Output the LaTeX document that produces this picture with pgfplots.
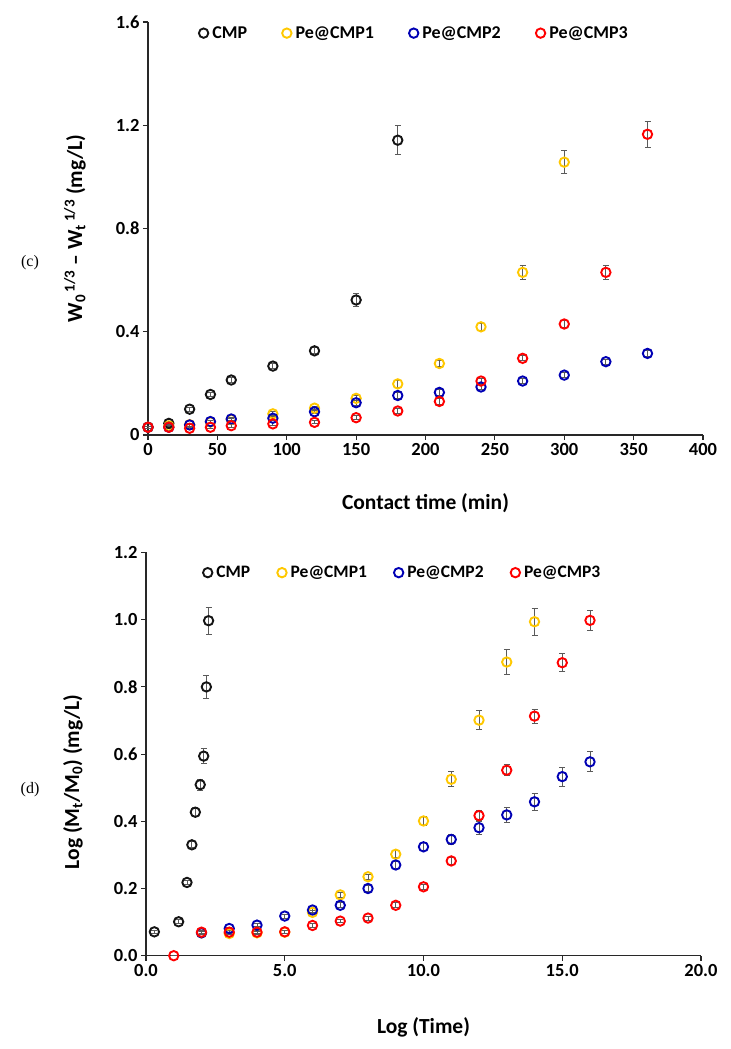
\documentclass[border=0pt]{standalone}
\usepackage{pgfplots}
\pgfplotsset{compat=1.18}
\usepackage{fontspec}
\setmainfont{Carlito}
\newfontfamily\serifpanel{Liberation Serif}
\definecolor{cmpk}{RGB}{20,20,20}
\definecolor{pe1}{RGB}{255,200,0}
\definecolor{pe2}{RGB}{0,0,180}
\definecolor{pe3}{RGB}{255,0,0}
\definecolor{errc}{RGB}{90,90,90}
\definecolor{axc}{RGB}{40,40,40}
\pgfplotsset{
  common/.style={
    scale only axis, width=555bp,
    axis x line*=bottom, axis y line*=left,
    axis line style={axc, line width=1.1bp},
    tick style={axc, line width=1.1bp},
    tick align=outside, major tick length=5bp,
    /pgf/number format/assume math mode=true,
    tick label style={font=\bfseries\fontsize{18.5bp}{22bp}\selectfont},
    label style={font=\bfseries\fontsize{21.5bp}{26bp}\selectfont},
    legend style={draw=none, fill=none, font=\bfseries\fontsize{18bp}{22bp}\selectfont,
      legend columns=4,
      /tikz/every odd column/.append style={column sep=2bp}},
    legend image code/.code={\draw[mark repeat=2,mark phase=2,##1] plot coordinates {(0cm,0cm)(0.12cm,0cm)(0.24cm,0cm)};},
    clip=false,
  },
  ser/.style={only marks, mark=o, mark size=4.7bp, mark options={line width=1.9bp, draw=#1},
    error bars/.cd, y dir=both, y explicit,
    error bar style={errc, line width=0.9bp}, error mark options={rotate=90, mark size=3bp, errc, line width=0.9bp}},
}
\begin{document}
\begin{tikzpicture}
\path[use as bounding box] (0,0) rectangle (731bp,1049bp);
% ---------------- (c) ----------------
\begin{axis}[common, at={(148bp,614bp)}, anchor=south west, height=413bp,
  xmin=0, xmax=400, ymin=0, ymax=1.6,
  xtick={0,50,...,400}, ytick={0,0.4,0.8,1.2,1.6},
  yticklabels={0,0.4,0.8,1.2,1.6},
  xlabel={Contact time (min)},
  ylabel={W\textsubscript{0}\textsuperscript{\,1/3} -- W\textsubscript{t}\textsuperscript{\,1/3} (mg/L)},
  xlabel style={at={(axis description cs:0.5,-0.165)}, anchor=center},
  ylabel style={at={(axis description cs:-0.1315,0.5)}, anchor=center},
  legend style={at={(axis description cs:0.086,0.973)}, anchor=west,
    /tikz/every even column/.append style={column sep=33bp}},
]
\addplot+[ser=cmpk] coordinates {
(0,0.030) +- (0,0.005) (15,0.045) +- (0,0.008) (30,0.100) +- (0,0.008) (45,0.157) +- (0,0.008)
(60,0.213) +- (0,0.010) (90,0.267) +- (0,0.010) (120,0.326) +- (0,0.012) (150,0.523) +- (0,0.026)
(180,1.142) +- (0,0.057)};
\addlegendentry{CMP}
\addplot+[ser=pe1] coordinates {
(0,0.030) +- (0,0.005) (15,0.035) +- (0,0.005) (30,0.040) +- (0,0.005) (45,0.050) +- (0,0.006)
(60,0.060) +- (0,0.006) (90,0.082) +- (0,0.008) (120,0.104) +- (0,0.008) (150,0.142) +- (0,0.010)
(180,0.198) +- (0,0.015) (210,0.277) +- (0,0.012) (240,0.419) +- (0,0.015) (270,0.630) +- (0,0.028)
(300,1.057) +- (0,0.045)};
\addlegendentry{Pe@CMP1}
\addplot+[ser=pe2] coordinates {
(0,0.030) +- (0,0.005) (15,0.030) +- (0,0.005) (30,0.039) +- (0,0.005) (45,0.052) +- (0,0.006)
(60,0.062) +- (0,0.006) (90,0.065) +- (0,0.008) (120,0.090) +- (0,0.008) (150,0.125) +- (0,0.010)
(180,0.153) +- (0,0.010) (210,0.165) +- (0,0.010) (240,0.186) +- (0,0.010) (270,0.209) +- (0,0.010)
(300,0.232) +- (0,0.010) (330,0.284) +- (0,0.010) (360,0.316) +- (0,0.010)};
\addlegendentry{Pe@CMP2}
\addplot+[ser=pe3] coordinates {
(0,0.030) +- (0,0.005) (15,0.030) +- (0,0.005) (30,0.026) +- (0,0.005) (45,0.030) +- (0,0.005)
(60,0.036) +- (0,0.006) (90,0.043) +- (0,0.006) (120,0.049) +- (0,0.006) (150,0.067) +- (0,0.008)
(180,0.093) +- (0,0.008) (210,0.130) +- (0,0.010) (240,0.209) +- (0,0.010) (270,0.297) +- (0,0.010)
(300,0.430) +- (0,0.012) (330,0.630) +- (0,0.028) (360,1.165) +- (0,0.050)};
\addlegendentry{Pe@CMP3}
\end{axis}
\node[font=\serifpanel\fontsize{16bp}{19bp}\selectfont] at (30bp,786bp) {(c)};
% ---------------- (d) ----------------
\begin{axis}[common, at={(146bp,93.3bp)}, anchor=south west, height=403.2bp,
  xmin=0, xmax=20, ymin=0, ymax=1.2,
  xtick={0,5,...,20}, ytick={0,0.2,...,1.2},
  xticklabel style={/pgf/number format/.cd, fixed, fixed zerofill, precision=1},
  yticklabel style={/pgf/number format/.cd, fixed, fixed zerofill, precision=1},
  xlabel={Log (Time)},
  ylabel={Log (M\textsubscript{t}/M\textsubscript{0}) (mg/L)},
  xlabel style={at={(axis description cs:0.5,-0.178)}, anchor=center},
  ylabel style={at={(axis description cs:-0.1315,0.431)}, anchor=center},
  legend style={at={(axis description cs:0.097,0.95)}, anchor=west,
    font=\bfseries\fontsize{17.5bp}{21bp}\selectfont,
    /tikz/every even column/.append style={column sep=25bp}},
]
\addplot+[ser=cmpk] coordinates {
(0.301,0.071) +- (0,0.005) (1.176,0.101) +- (0,0.006) (1.477,0.218) +- (0,0.007) (1.653,0.330) +- (0,0.009)
(1.778,0.427) +- (0,0.014) (1.954,0.509) +- (0,0.017) (2.079,0.594) +- (0,0.023) (2.176,0.800) +- (0,0.033)
(2.255,0.997) +- (0,0.040)};
\addlegendentry{CMP}
\addplot+[ser=pe1] coordinates {
(2,0.068) +- (0,0.004) (3,0.066) +- (0,0.004) (4,0.068) +- (0,0.004) (5,0.070) +- (0,0.004)
(6,0.129) +- (0,0.006) (7,0.181) +- (0,0.008) (8,0.235) +- (0,0.008) (9,0.302) +- (0,0.010)
(10,0.401) +- (0,0.013) (11,0.525) +- (0,0.022) (12,0.701) +- (0,0.029) (13,0.874) +- (0,0.036)
(14,0.994) +- (0,0.040)};
\addlegendentry{Pe@CMP1}
\addplot+[ser=pe2] coordinates {
(2,0.068) +- (0,0.004) (3,0.081) +- (0,0.004) (4,0.091) +- (0,0.005) (5,0.118) +- (0,0.006)
(6,0.136) +- (0,0.006) (7,0.150) +- (0,0.007) (8,0.200) +- (0,0.008) (9,0.270) +- (0,0.010)
(10,0.324) +- (0,0.012) (11,0.346) +- (0,0.016) (12,0.381) +- (0,0.019) (13,0.419) +- (0,0.022)
(14,0.458) +- (0,0.025) (15,0.533) +- (0,0.028) (16,0.577) +- (0,0.030)};
\addlegendentry{Pe@CMP2}
\addplot+[ser=pe3] coordinates {
(1,0.000) +- (0,0.000) (2,0.070) +- (0,0.004) (3,0.070) +- (0,0.004) (4,0.070) +- (0,0.004)
(5,0.071) +- (0,0.004) (6,0.090) +- (0,0.005) (7,0.103) +- (0,0.005) (8,0.112) +- (0,0.006)
(9,0.150) +- (0,0.007) (10,0.205) +- (0,0.008) (11,0.282) +- (0,0.010) (12,0.417) +- (0,0.015)
(13,0.552) +- (0,0.016) (14,0.713) +- (0,0.021) (15,0.872) +- (0,0.027) (16,0.998) +- (0,0.031)};
\addlegendentry{Pe@CMP3}
\end{axis}
\node[font=\serifpanel\fontsize{16bp}{19bp}\selectfont] at (30bp,259bp) {(d)};
\end{tikzpicture}
\end{document}
